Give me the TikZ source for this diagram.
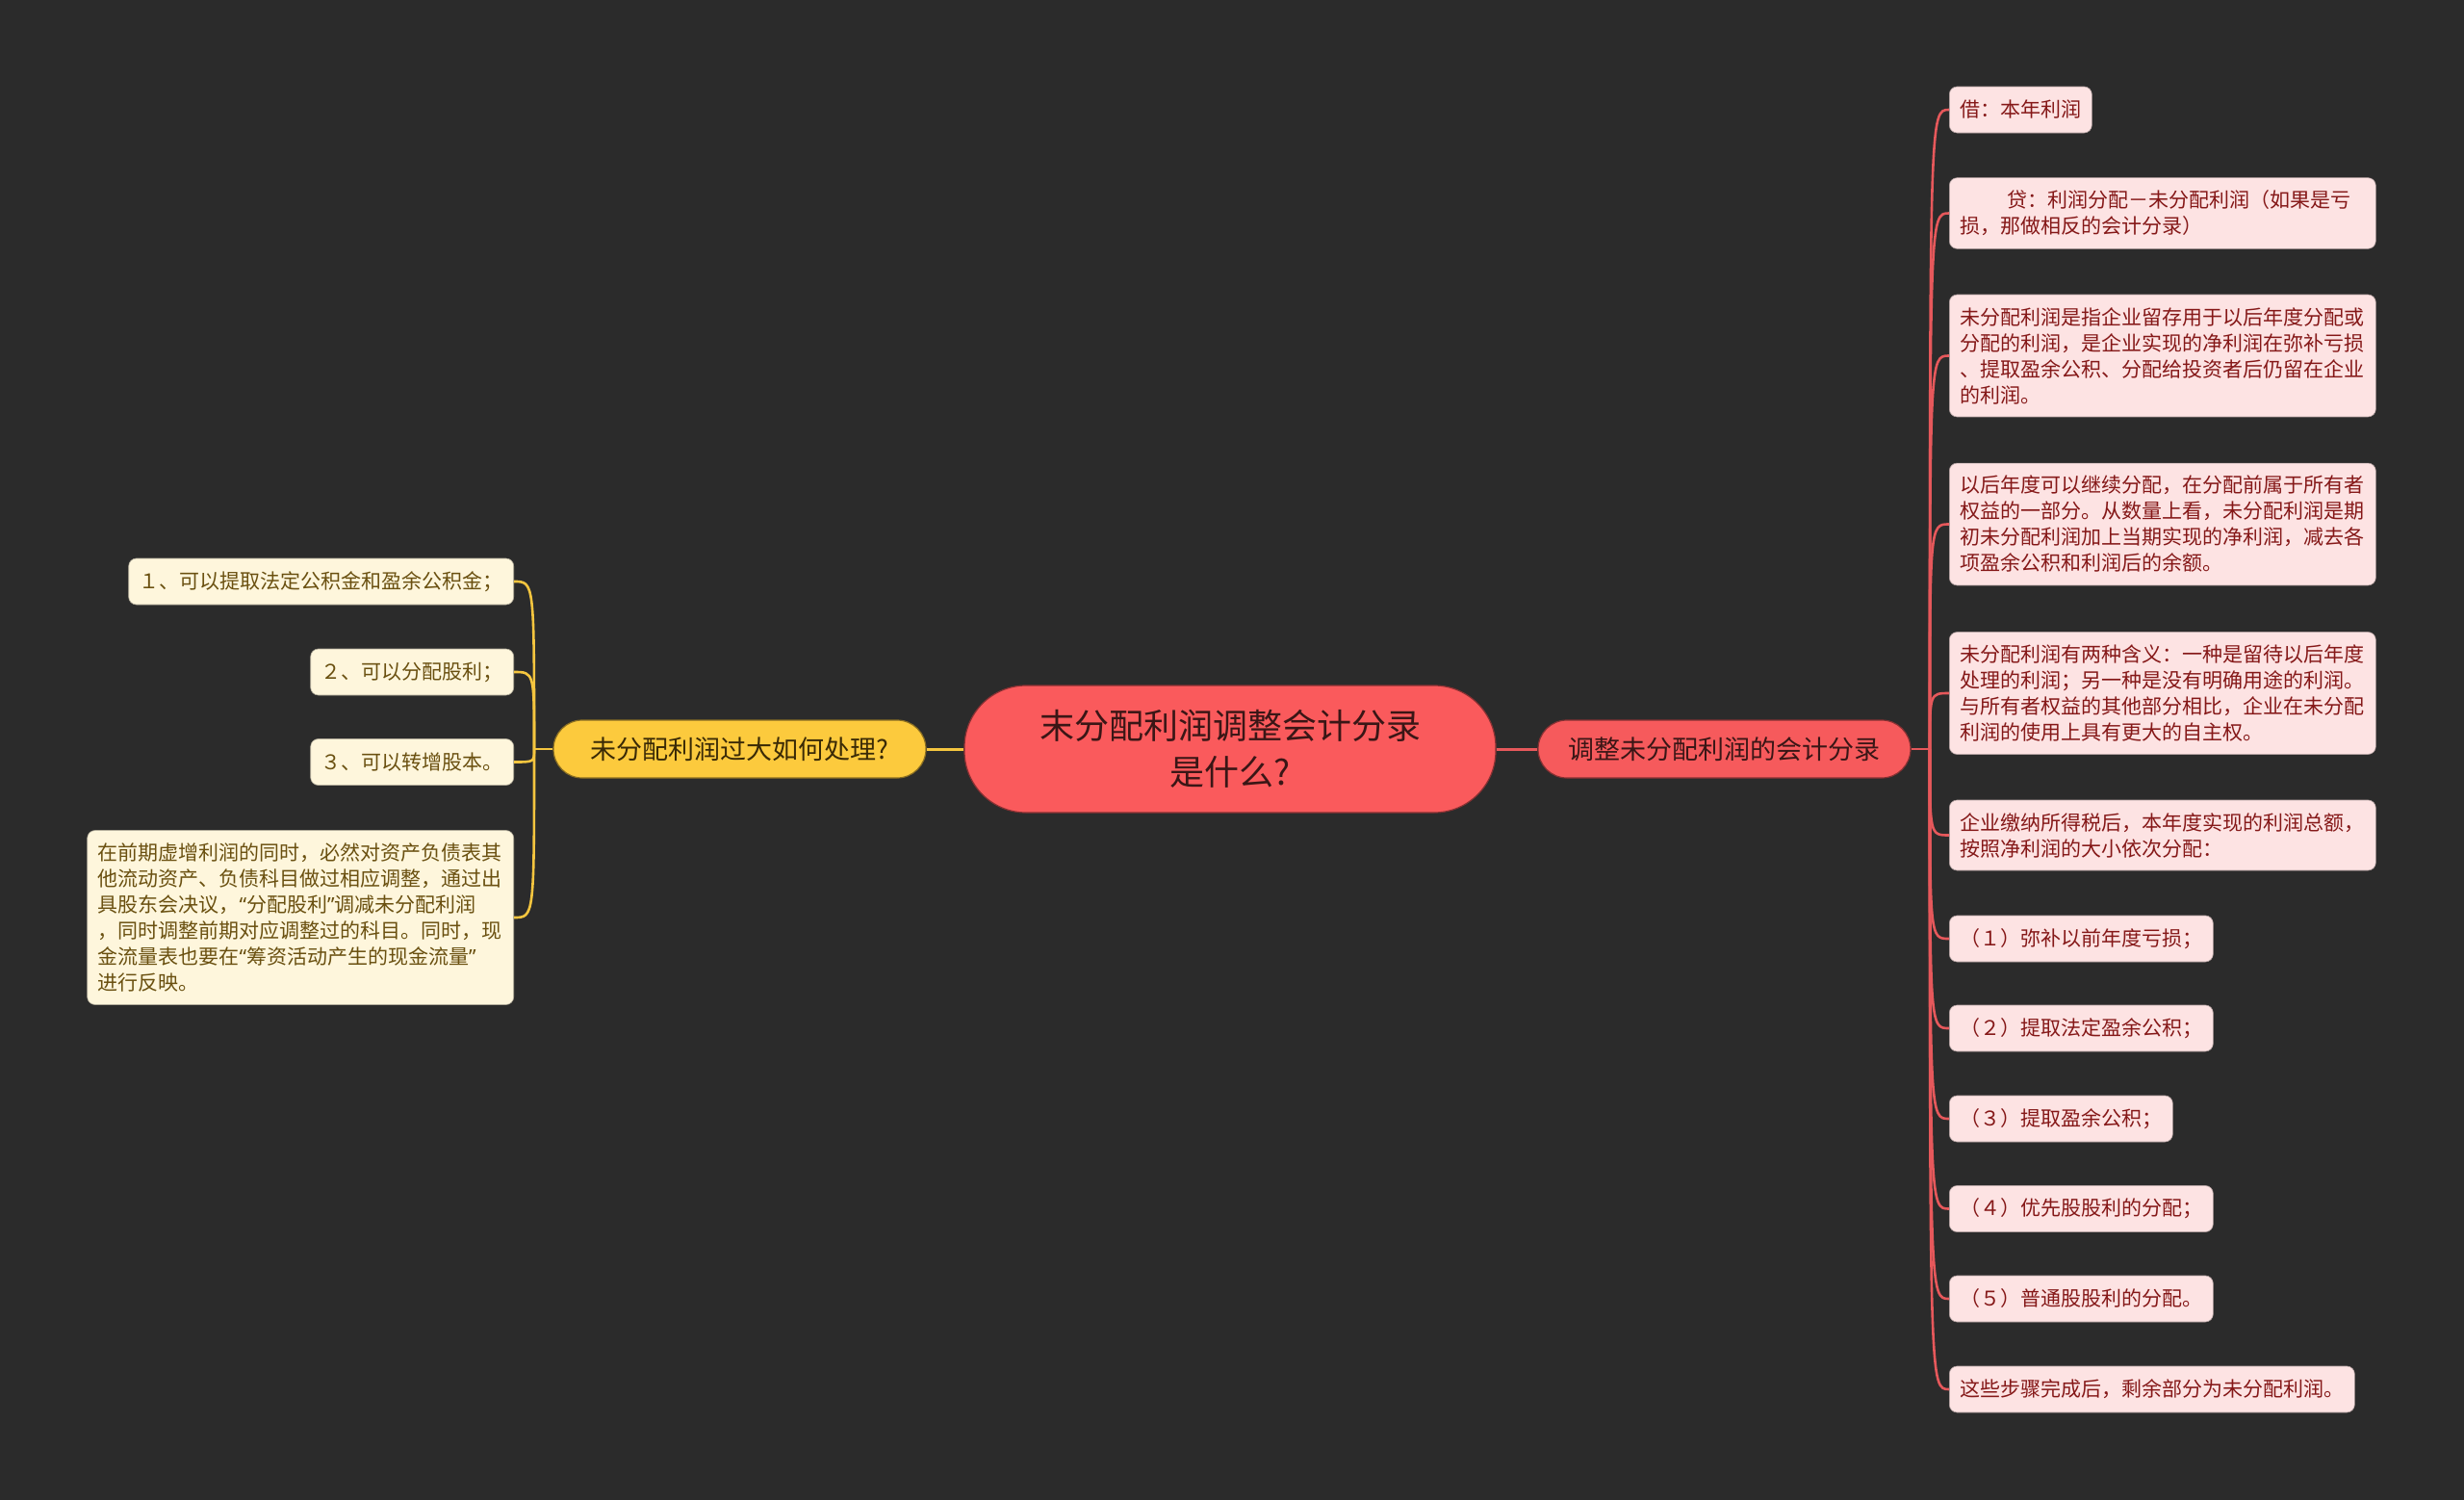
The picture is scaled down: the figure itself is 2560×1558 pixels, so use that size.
\documentclass[tikz,border=0pt]{standalone}
\usepackage{fontspec}
\setmainfont{Noto Sans CJK SC}
\newfontfamily\latinq{Noto Sans}
\definecolor{bgdark}{HTML}{2B2B2B}
\definecolor{rootred}{HTML}{FA5A5C}
\definecolor{rootink}{HTML}{3A1616}
\definecolor{branchred}{HTML}{F65A5C}
\definecolor{branchgold}{HTML}{FCCA3D}
\definecolor{goldink}{HTML}{3A2A06}
\definecolor{pinkleaf}{HTML}{FDE3E3}
\definecolor{pinkink}{HTML}{851818}
\definecolor{creamleaf}{HTML}{FEF6DC}
\definecolor{creamink}{HTML}{6A5010}
\definecolor{redwire}{HTML}{E6585B}
\definecolor{goldwire}{HTML}{F4C53F}
\newcommand\oq{{\latinq “}}
\newcommand\cq{{\latinq ”}}
\tikzset{
  rootbox/.style={fill=rootred,draw=rootred!55!black,line width=0.6pt,rounded corners=32pt,
    minimum width=276pt,minimum height=66pt,align=center,text=rootink,
    font=\fontsize{18pt}{24pt}\selectfont},
  branchbox/.style={draw=#1!55!black,fill=#1,line width=0.6pt,rounded corners=15pt,
    minimum width=193.5pt,minimum height=30pt,font=\fontsize{13.5pt}{16pt}\selectfont},
  rleaf/.style={fill=pinkleaf,draw=pinkleaf!70!black,line width=0.3pt,rounded corners=4pt,
    text=pinkink,anchor=west,inner xsep=5.5pt,inner ysep=6.6pt,align=left,
    font=\fontsize{10.5pt}{13.5pt}\selectfont},
  lleaf/.style={fill=creamleaf,draw=creamleaf!70!black,line width=0.3pt,rounded corners=4pt,
    text=creamink,anchor=east,inner xsep=5.5pt,inner ysep=6.6pt,align=left,
    font=\fontsize{10.5pt}{13.5pt}\selectfont},
  rline/.style={draw=redwire,line width=1.3pt},
  lline/.style={draw=goldwire,line width=1.3pt}
}
\begin{document}
\begin{tikzpicture}[x=0.5pt,y=-0.5pt]
\fill[bgdark] (0,0) rectangle (2560,1558);
\useasboundingbox (0,0) rectangle (2560,1558);
% centre and the two main topics
\node[rootbox] (root) at (1278,778) {末分配利润调整会计分录\\是什么?};
\node[branchbox=branchred,text=rootink] (rb) at (1791.5,778) {调整未分配利润的会计分录};
\node[branchbox=branchgold,text=goldink] (lb) at (768.5,778) {未分配利润过大如何处理?};
% right side leaves
\foreach \i/\y/\txt in {1/114/{借：本年利润},7/975/{（１）弥补以前年度亏损；},8/1068/{（２）提取法定盈余公积；},
  9/1162/{（３）提取盈余公积；},10/1255.5/{（４）优先股股利的分配；},11/1349/{（５）普通股股利的分配。},
  12/1443/{这些步骤完成后，剩余部分为未分配利润。}}{
  \node[rleaf,minimum height=24pt] (r\i) at (2025,\y) {\txt};}
\foreach \i/\y/\txt in {%
  2/221.5/{\hspace*{24.5pt}贷：利润分配－未分配利润（如果是亏\\损，那做相反的会计分录）},
  3/369.5/{未分配利润是指企业留存用于以后年度分配或\\分配的利润，是企业实现的净利润在弥补亏损\\、提取盈余公积、分配给投资者后仍留在企业\\的利润。},
  4/544.5/{以后年度可以继续分配，在分配前属于所有者\\权益的一部分。从数量上看，未分配利润是期\\初未分配利润加上当期实现的净利润，减去各\\项盈余公积和利润后的余额。},
  5/720/{未分配利润有两种含义：一种是留待以后年度\\处理的利润；另一种是没有明确用途的利润。\\与所有者权益的其他部分相比，企业在未分配\\利润的使用上具有更大的自主权。},
  6/867.5/{企业缴纳所得税后，本年度实现的利润总额，\\按照净利润的大小依次分配：}}{
  \node[rleaf,text width=210.5pt] (r\i) at (2025,\y) {\txt};}
% left side leaves
\foreach \i/\y/\txt in {1/604/{１、可以提取法定公积金和盈余公积金；},2/698/{２、可以分配股利；},3/791.5/{３、可以转增股本。}}{
  \node[lleaf,minimum height=24pt] (l\i) at (534,\y) {\txt};}
\node[lleaf,text width=210.5pt] (l4) at (534,953) {在前期虚增利润的同时，必然对资产负债表其\\他流动资产、负债科目做过相应调整，通过出\\具股东会决议，\oq 分配股利\cq 调减未分配利润\\，同时调整前期对应调整过的科目。同时，现\\金流量表也要在\oq 筹资活动产生的现金流量\cq\\进行反映。};
% connectors
\coordinate (rj) at (2005,778);
\coordinate (lj) at (555,778);
\draw[rline,line width=1.5pt] (root.east) -- (rb.west);
\draw[lline,line width=1.5pt] (root.west) -- (lb.east);
\draw[rline] (rb.east) -- (rj);
\draw[lline] (lb.west) -- (lj);
\foreach \i in {1,...,12}
  \draw[rline] (rj) .. controls (rj |- r\i.west) and (rj |- r\i.west) .. (r\i.west);
\foreach \i in {1,...,4}
  \draw[lline] (lj) .. controls (lj |- l\i.east) and (lj |- l\i.east) .. (l\i.east);
\end{tikzpicture}
\end{document}
